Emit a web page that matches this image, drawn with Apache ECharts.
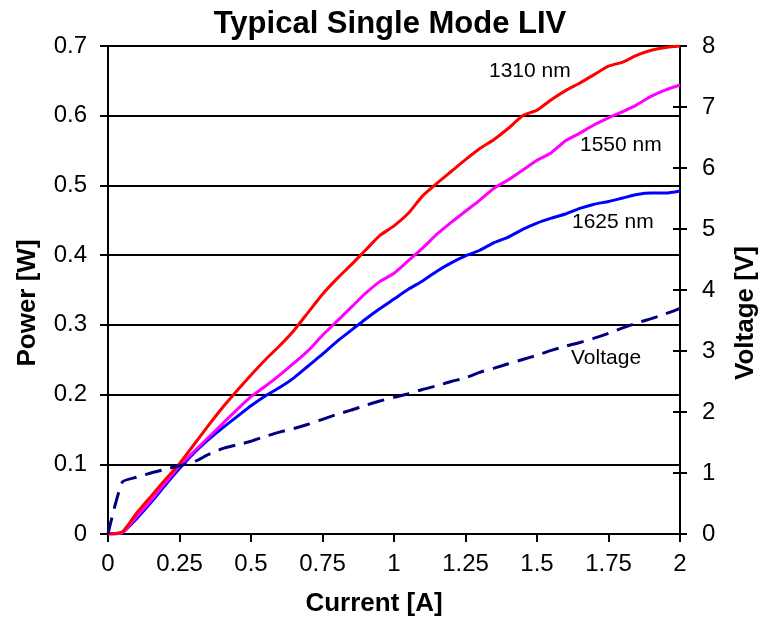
<!DOCTYPE html>
<html><head><meta charset="utf-8">
<script src="https://cdn.jsdelivr.net/npm/echarts@6/dist/echarts.min.js"></script>
<style>html,body{margin:0;padding:0;background:#fff}#c{width:768px;height:618px}</style>
</head><body><div id="c"></div>
<script>
const current = [0,0.05,0.1,0.15,0.2,0.25,0.3,0.35,0.4,0.45,0.5,0.55,0.6,0.65,0.7,0.75,0.8,0.85,0.9,0.95,1.0,1.05,1.1,1.15,1.2,1.25,1.3,1.35,1.4,1.45,1.5,1.55,1.6,1.65,1.7,1.75,1.8,1.85,1.9,1.95,2.0];
const p1310 = [0,0.003,0.03,0.054,0.078,0.101,0.128,0.155,0.181,0.205,0.228,0.25,0.27,0.292,0.318,0.344,0.366,0.386,0.407,0.428,0.442,0.46,0.485,0.503,0.52,0.537,0.553,0.566,0.582,0.6,0.608,0.623,0.636,0.647,0.659,0.671,0.677,0.687,0.694,0.698,0.7];
const p1550 = [0,0.002,0.025,0.048,0.073,0.098,0.118,0.138,0.158,0.178,0.197,0.212,0.228,0.245,0.263,0.285,0.305,0.325,0.345,0.362,0.374,0.392,0.41,0.43,0.447,0.463,0.479,0.496,0.508,0.522,0.536,0.547,0.564,0.575,0.587,0.597,0.606,0.616,0.628,0.637,0.644];
const p1625 = [0,0.002,0.022,0.045,0.07,0.094,0.116,0.135,0.152,0.168,0.184,0.198,0.21,0.224,0.241,0.258,0.276,0.292,0.308,0.323,0.337,0.351,0.363,0.377,0.389,0.399,0.407,0.418,0.426,0.437,0.446,0.453,0.459,0.467,0.473,0.477,0.482,0.487,0.489,0.489,0.492];
const voltage = [0,0.85,0.93,1.0,1.06,1.12,1.18,1.3,1.4,1.46,1.52,1.6,1.67,1.73,1.8,1.88,1.96,2.03,2.11,2.18,2.24,2.3,2.37,2.43,2.5,2.56,2.65,2.72,2.79,2.86,2.93,3.01,3.08,3.14,3.21,3.29,3.38,3.46,3.53,3.61,3.7];
const seriesNames = ['1310 nm','1550 nm','1625 nm','Voltage'];
const xTicks = ['0','0.25','0.5','0.75','1','1.25','1.5','1.75','2'];
const titleText = 'Typical Single Mode LIV';
const axisNames = ['Current [A]','Power [W]','Voltage [V]'];

const FONT = 'Liberation Sans, Arial, sans-serif';
const zip = (ys) => current.map((x,i)=>[x, ys[i]]);
const chart = echarts.init(document.getElementById('c'), null, {renderer:'canvas'});
const baseAxisLine = {show:true, lineStyle:{color:'#000', width:2}};
const nameStyle = {fontFamily:FONT, fontWeight:'bold', fontSize:26, fill:'#000', align:'center', verticalAlign:'middle'};
const noteStyle = {fontFamily:FONT, fontSize:21, fill:'#000'};
chart.setOption({
  animation:false,
  backgroundColor:'#fff',
  title:{text:titleText, left:385, top:4, textAlign:'center',
    textStyle:{fontFamily:FONT, fontWeight:'bold', fontSize:31, color:'#000'}},
  grid:{left:108, right:88, top:46, bottom:84},
  xAxis:{type:'value', min:0, max:2, interval:0.25,
    axisLine:baseAxisLine, axisTick:{show:true, length:8, lineStyle:{color:'#000', width:2}},
    splitLine:{show:false},
    axisLabel:{fontFamily:FONT, fontSize:24, color:'#000', margin:18,
      formatter:(v)=>xTicks[Math.round(v/0.25)]}},
  yAxis:[
    {type:'value', min:0, max:0.7, interval:0.1, position:'left',
     axisLine:baseAxisLine, axisTick:{show:true, length:8, lineStyle:{color:'#000', width:2}},
     splitLine:{show:true, lineStyle:{color:'#000', width:2}},
     axisLabel:{fontFamily:FONT, fontSize:24, color:'#000', margin:21, formatter:(v)=>v===0?'0':v.toFixed(1)}},
    {type:'value', min:0, max:8, interval:1, position:'right',
     axisLine:baseAxisLine, axisTick:{show:true, length:7, lineStyle:{color:'#000', width:2}},
     splitLine:{show:false},
     axisLabel:{fontFamily:FONT, fontSize:24, color:'#000', margin:22}},
    {type:'value', min:0, max:8, interval:1, position:'right',
     axisLine:{show:false}, axisTick:{show:true, inside:true, length:7, lineStyle:{color:'#000', width:2}},
     splitLine:{show:false}, axisLabel:{show:false}}
  ],
  series:[
    {name:seriesNames[0], type:'line', yAxisIndex:0, data:zip(p1310), showSymbol:false, smooth:0.2,
     lineStyle:{color:'#FF0000', width:3}, z:5},
    {name:seriesNames[1], type:'line', yAxisIndex:0, data:zip(p1550), showSymbol:false, smooth:0.2,
     lineStyle:{color:'#FF00FF', width:3}, z:4},
    {name:seriesNames[2], type:'line', yAxisIndex:0, data:zip(p1625), showSymbol:false, smooth:0.2,
     lineStyle:{color:'#0000FF', width:3}, z:3},
    {name:seriesNames[3], type:'line', yAxisIndex:1, data:zip(voltage), showSymbol:false, smooth:0.2,
     lineStyle:{color:'#000080', width:3, type:[17,9]}, z:6}
  ],
  graphic:[
    {type:'text', x:374, y:604, style:Object.assign({text:axisNames[0]}, nameStyle)},
    {type:'text', x:28, y:303, rotation:Math.PI/2, style:Object.assign({text:axisNames[1]}, nameStyle)},
    {type:'text', x:746, y:313, rotation:Math.PI/2, style:Object.assign({text:axisNames[2]}, nameStyle)},
    {type:'text', left:489, top:61, style:Object.assign({text:seriesNames[0]}, noteStyle)},
    {type:'text', left:580, top:135, style:Object.assign({text:seriesNames[1]}, noteStyle)},
    {type:'text', left:572, top:212, style:Object.assign({text:seriesNames[2]}, noteStyle)},
    {type:'text', left:571, top:348, style:Object.assign({text:seriesNames[3]}, noteStyle)}
  ]
});
</script></body></html>
